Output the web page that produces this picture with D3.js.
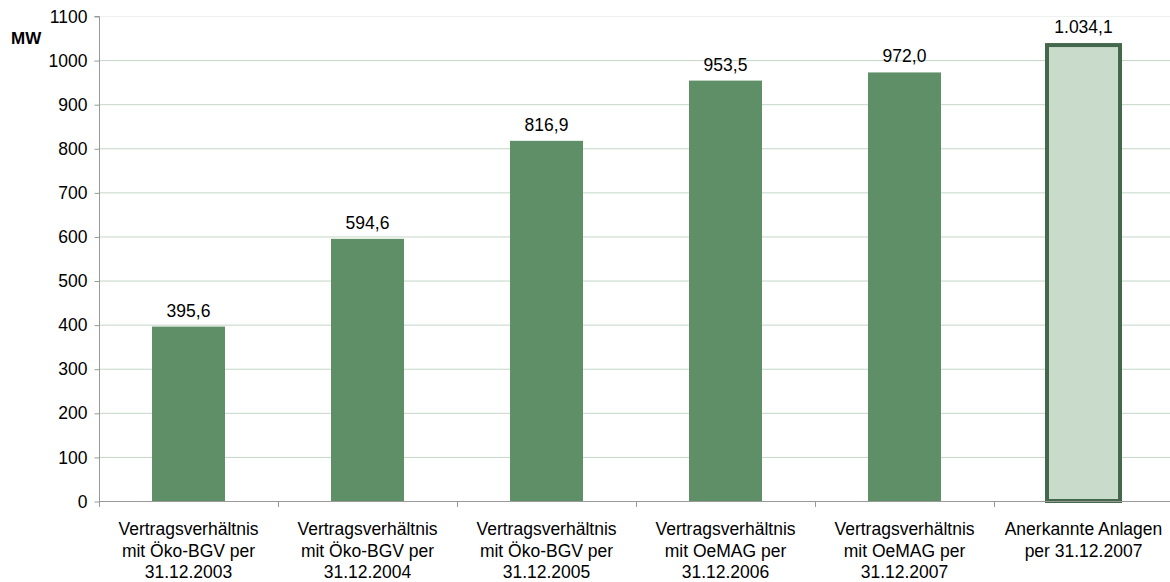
<!DOCTYPE html>
<html>
<head>
<meta charset="utf-8">
<script src="https://cdn.jsdelivr.net/npm/d3@7"></script>
<style>
  body { margin: 0; background: #fff; }
  text { font-family: "Liberation Sans", Arial, sans-serif; fill: #000; }
</style>
</head>
<body>
<div id="chart"></div>
<script>
// data
var categories = [
  ['Vertragsverhältnis', 'mit Öko-BGV per', '31.12.2003'],
  ['Vertragsverhältnis', 'mit Öko-BGV per', '31.12.2004'],
  ['Vertragsverhältnis', 'mit Öko-BGV per', '31.12.2005'],
  ['Vertragsverhältnis', 'mit OeMAG per', '31.12.2006'],
  ['Vertragsverhältnis', 'mit OeMAG per', '31.12.2007'],
  ['Anerkannte Anlagen', 'per 31.12.2007']
];
var values = [395.6, 594.6, 816.9, 953.5, 972.0, 1034.1];
var valueLabels = ['395,6', '594,6', '816,9', '953,5', '972,0', '1.034,1'];
var yTicks = [0, 100, 200, 300, 400, 500, 600, 700, 800, 900, 1000, 1100];

var width = 1170, height = 582;
var plotLeft = 99, plotRight = 1173, plotTop = 16, plotBottom = 501;
var fontSize = '17.5px';

var svg = d3.select('#chart').append('svg')
    .attr('width', width)
    .attr('height', height);

var x = d3.scaleBand()
    .domain(d3.range(categories.length))
    .range([plotLeft, plotRight])
    .padding(0);

var y = d3.scaleLinear()
    .domain([0, 1100])
    .range([plotBottom, plotTop]);

// gridlines
svg.append('g')
  .selectAll('line')
    .data(yTicks.filter(function(d) { return d > 0; }))
  .enter().append('line')
    .attr('x1', plotLeft).attr('x2', plotRight)
    .attr('y1', function(d) { return y(d) + 0.5; })
    .attr('y2', function(d) { return y(d) + 0.5; })
    .attr('stroke', function(d) { return d === 1100 ? '#eef2ee' : '#c3d6c6'; })
    .attr('stroke-width', 1);

// y axis
var yAxis = d3.axisLeft(y)
    .tickValues(yTicks)
    .tickSize(5)
    .tickPadding(7)
    .tickFormat(d3.format('d'));

var gy = svg.append('g')
    .attr('transform', 'translate(' + (plotLeft + 0.5) + ',0.5)')
    .call(yAxis);
gy.select('.domain').attr('stroke', '#999').attr('d', 'M-5,' + plotTop + 'H0V' + plotBottom);
gy.selectAll('.tick line').attr('stroke', '#999');
gy.selectAll('.tick text')
    .style('font-family', '"Liberation Sans", Arial, sans-serif')
    .style('font-size', fontSize)
    .attr('fill', '#000');

// bars
var barW = 73;
svg.append('g')
  .selectAll('rect')
    .data(values)
  .enter().append('rect')
    .attr('x', function(d, i) { return x(i) + x.bandwidth() / 2 - barW / 2; })
    .attr('y', function(d) { return y(d); })
    .attr('width', barW)
    .attr('height', function(d) { return y(0) - y(d); })
    .attr('fill', function(d, i) { return i === 5 ? '#c9dccc' : '#5f8f67'; })
    .attr('stroke', function(d, i) { return i === 5 ? '#45674c' : 'none'; })
    .attr('stroke-width', 4);

// x axis line and ticks
svg.append('line')
    .attr('x1', plotLeft).attr('x2', plotRight)
    .attr('y1', plotBottom + 0.5).attr('y2', plotBottom + 0.5)
    .attr('stroke', '#999');

svg.append('g')
  .selectAll('line')
    .data(d3.range(categories.length + 1))
  .enter().append('line')
    .attr('x1', function(i) { return Math.round(plotLeft + i * x.step()) + 0.5; })
    .attr('x2', function(i) { return Math.round(plotLeft + i * x.step()) + 0.5; })
    .attr('y1', plotBottom)
    .attr('y2', plotBottom + 6)
    .attr('stroke', '#999');

// value labels
svg.append('g')
  .selectAll('text')
    .data(values)
  .enter().append('text')
    .attr('x', function(d, i) { return x(i) + x.bandwidth() / 2; })
    .attr('y', function(d, i) { return y(d) - (i === 5 ? 12 : 10); })
    .attr('text-anchor', 'middle')
    .style('font-size', fontSize)
    .text(function(d, i) { return valueLabels[i]; });

// category labels
var cat = svg.append('g')
  .selectAll('text')
    .data(categories)
  .enter().append('text')
    .attr('text-anchor', 'middle')
    .style('font-size', fontSize);

cat.each(function(lines, i) {
  d3.select(this).selectAll('tspan')
      .data(lines)
    .enter().append('tspan')
      .attr('x', x(i) + x.bandwidth() / 2)
      .attr('y', function(d, j) { return 535 + j * 21.5; })
      .text(function(d) { return d; });
});

// unit label
svg.append('text')
    .attr('x', 11)
    .attr('y', 44)
    .style('font-size', '17px')
    .style('font-weight', 'bold')
    .text('MW');
</script>
</body>
</html>
